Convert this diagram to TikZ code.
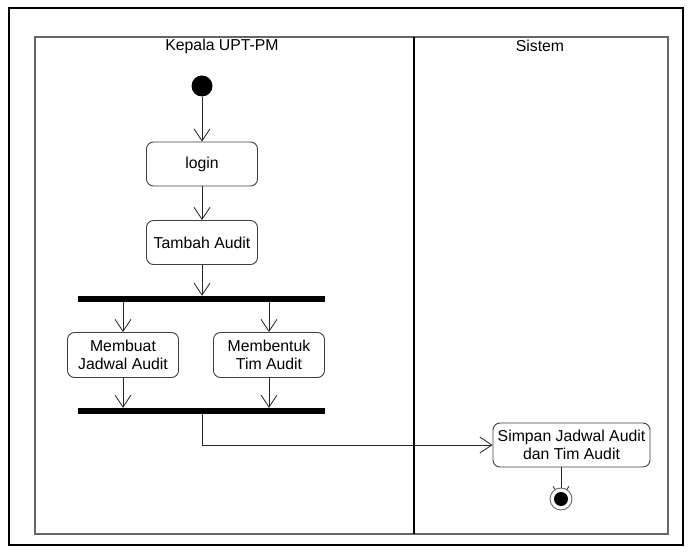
\documentclass[tikz,border=0pt]{standalone}
\usepackage{fontspec}
\setmainfont{Liberation Sans}
\usetikzlibrary{arrows.meta}
\begin{document}
\begin{tikzpicture}[x=1pt,y=-1pt,
  font=\fontsize{15.8}{18.5}\selectfont,
  action/.style={draw=black!75, line width=0.9pt, fill=white, rounded corners=7pt,
    minimum height=44pt, inner sep=1pt, align=center},
  bar/.style={fill=black, inner sep=0pt, minimum width=247pt, minimum height=6pt},
  flow/.style={draw=black!85, line width=0.8pt, -{Straight Barb[length=12pt,width=16pt,line width=0.8pt]}},
  lane/.style={draw=black!60, line width=1.6pt}]
  \useasboundingbox (0,0) rectangle (689,553);
  % outer frame and swimlanes
  \draw[line width=1.8pt] (9,8) rectangle (683,545);
  \draw[lane] (35,37) rectangle (668,534);
  \draw[line width=1.8pt] (414,37) -- (414,534);
  \node (laneA) at (222,46) {Kepala UPT-PM};
  \node (laneB) at (540,46) {Sistem};
  % activity nodes
  \node[circle, fill=black, minimum size=21pt, inner sep=0pt] (start) at (202,86) {};
  \node[action, minimum width=111pt] (login) at (202,164) {login};
  \node[action, minimum width=111pt] (tambah) at (202,242.5) {Tambah Audit};
  \node[bar] (fork) at (201.5,299) {};
  \node[action, minimum width=111pt, minimum height=45pt] (jadwal) at (123,355) {Membuat\\Jadwal Audit};
  \node[action, minimum width=111pt, minimum height=45pt] (tim) at (269,355) {Membentuk\\Tim Audit};
  \node[bar] (join) at (201.5,411) {};
  \node[action, minimum width=157pt] (simpan) at (571.5,445) {Simpan Jadwal Audit\\dan Tim Audit};
  \coordinate (final) at (561,499);
  % control flow
  \draw[flow] (start) -- (login);
  \draw[flow] (login) -- (tambah);
  \draw[flow] (tambah) -- (tambah |- fork.north);
  \draw[flow] (jadwal |- fork.south) -- (jadwal);
  \draw[flow] (tim |- fork.south) -- (tim);
  \draw[flow] (jadwal) -- (jadwal |- join.north);
  \draw[flow] (tim) -- (tim |- join.north);
  \draw[flow] (202,414) |- (simpan.west);
  \draw[flow] (final |- simpan.south) -- (final);
  % final node drawn over the incoming arrow
  \node[circle, draw=black!60, line width=0.9pt, fill=white, minimum size=22pt, inner sep=0pt] (finalout) at (final) {};
  \node[circle, fill=black, minimum size=14pt, inner sep=0pt] (finalin) at (final) {};
\end{tikzpicture}
\end{document}
